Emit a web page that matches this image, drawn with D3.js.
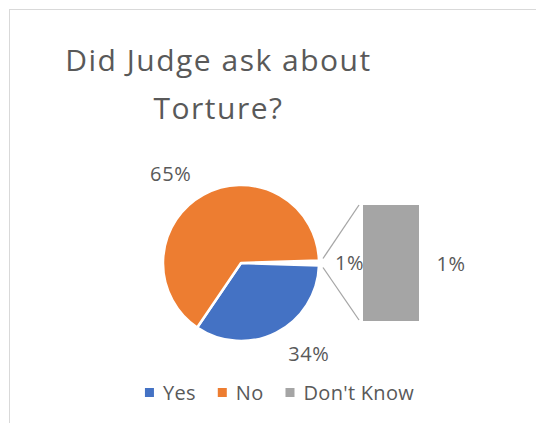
<!DOCTYPE html>
<html>
<head>
<meta charset="utf-8">
<script src="https://cdn.jsdelivr.net/npm/d3@7"></script>
<style>
  html, body { margin: 0; padding: 0; background: #fff; }
  svg { display: block; }
  text { font-family: "Open Sans", "DejaVu Sans", sans-serif; fill: #595959; }
</style>
</head>
<body>
<svg id="chart" width="536" height="423"></svg>
<script>
// Survey answers: did the judge ask about torture?
const categories = ["Yes", "No", "Don't Know"];
const values = [34, 65, 1];
const percentLabels = ["34%", "65%", "1%"];
const colors = ["#4472C4", "#ED7D31", "#A5A5A5"];
// categories split off from the pie into the stacked bar
const barCategories = ["Don't Know"];
const titleLines = ["Did Judge ask about", "Torture?"];

const svg = d3.select("#chart");

// chart frame (extends past the right and bottom edges)
svg.append("rect")
  .attr("x", 9.5).attr("y", 9.5)
  .attr("width", 700).attr("height", 700)
  .attr("fill", "#fff").attr("stroke", "#d9d9d9").attr("stroke-width", 1);

// title
svg.append("g").selectAll("text")
  .data(titleLines)
  .join("text")
  .attr("x", 218.5)
  .attr("y", (d, i) => 71 + i * 48)
  .attr("text-anchor", "middle")
  .attr("font-size", 30)
  .attr("letter-spacing", 1.5)
  .text(d => d);

// ---- pie with the split-off group gathered into one slice ----
const cx = 241, cy = 263, r = 78;
const rows = categories.map((c, i) => ({ cat: c, value: values[i], label: percentLabels[i], color: colors[i] }));
const otherRows = rows.filter(d => barCategories.includes(d.cat));
const mainRows = rows.filter(d => !barCategories.includes(d.cat));
const otherTotal = d3.sum(otherRows, d => d.value);
const total = d3.sum(rows, d => d.value);

const pieRows = [{ cat: "__other", value: otherTotal, label: otherRows.map(d => d.label).join(""), color: "#fff" }, ...mainRows];
const halfOther = Math.PI * otherTotal / total;
const pie = d3.pie().sort(null).value(d => d.value)
  .startAngle(Math.PI / 2 - halfOther)
  .endAngle(Math.PI / 2 - halfOther + 2 * Math.PI);
const arcs = pie(pieRows);
const arc = d3.arc().innerRadius(0).outerRadius(r);

const gPie = svg.append("g").attr("transform", `translate(${cx},${cy})`);
gPie.selectAll("path")
  .data(arcs)
  .join("path")
  .attr("d", arc)
  .attr("fill", d => d.data.color)
  .attr("stroke", "#fff")
  .attr("stroke-width", 2.5)
  .attr("stroke-linejoin", "round");

// ---- bar of the split-off group ----
const barX = 363, barW = 56, barTop = 205, barBottom = 321;
const yBar = d3.scaleLinear().domain([0, otherTotal]).range([barBottom, barTop]);
const stack = d3.stack().keys(otherRows.map(d => d.cat))([Object.fromEntries(otherRows.map(d => [d.cat, d.value]))]);
svg.append("g").selectAll("rect")
  .data(stack)
  .join("rect")
  .attr("x", barX)
  .attr("width", barW)
  .attr("y", d => yBar(d[0][1]))
  .attr("height", d => yBar(d[0][0]) - yBar(d[0][1]))
  .attr("fill", d => otherRows.find(o => o.cat === d.key).color);

// connector lines from the pie's gathered slice to the bar
const connectors = [
  [[cx + r + 4, cy - 4.5], [barX - 4, yBar(otherTotal)]],
  [[cx + r + 4, cy + 4.5], [barX - 4, yBar(0) - 1]]
];
svg.append("g").selectAll("line")
  .data(connectors)
  .join("line")
  .attr("x1", d => d[0][0]).attr("y1", d => d[0][1])
  .attr("x2", d => d[1][0]).attr("y2", d => d[1][1])
  .attr("stroke", "#a6a6a6").attr("stroke-width", 1.3);

// ---- data labels, placed just outside each slice ----
const labelSize = 20;
const gLab = svg.append("g").attr("font-size", labelSize).attr("letter-spacing", 0.6);
arcs.forEach(a => {
  const mid = (a.startAngle + a.endAngle) / 2;
  const sx = Math.sin(mid), sy = -Math.cos(mid);
  const t = gLab.append("text").attr("text-anchor", "middle").attr("dy", "0.35em").text(a.data.label);
  const w = t.node().getComputedTextLength();
  const h = labelSize * 0.8;
  const R = r + 16;
  const side = Math.sign(Math.round(sx * 1000));
  const x = cx + R * sx + side * (w / 2 + 5 * Math.abs(sy));
  const y = cy + R * sy + sy * h / 2;
  t.attr("x", x).attr("y", y);
});
// bar labels
stack.forEach(s => {
  const row = otherRows.find(o => o.cat === s.key);
  gLab.append("text")
    .attr("text-anchor", "middle").attr("dy", "0.35em")
    .attr("x", barX + barW + 32)
    .attr("y", (yBar(s[0][0]) + yBar(s[0][1])) / 2 + 1)
    .text(row.label);
});

// ---- legend ----
const legend = svg.append("g").attr("font-size", 20).attr("letter-spacing", 0.3);
let lx = 0;
rows.forEach(d => {
  const g = legend.append("g");
  g.append("rect").attr("x", lx).attr("y", 388).attr("width", 9).attr("height", 9).attr("fill", d.color);
  const t = g.append("text").attr("x", lx + 18).attr("y", 400).text(d.cat);
  const w = t.node().getComputedTextLength();
  lx += 18 + w + 22;
});
const legendW = lx - 22;
legend.attr("transform", `translate(${279.5 - legendW / 2},0)`);
</script>
</body>
</html>
